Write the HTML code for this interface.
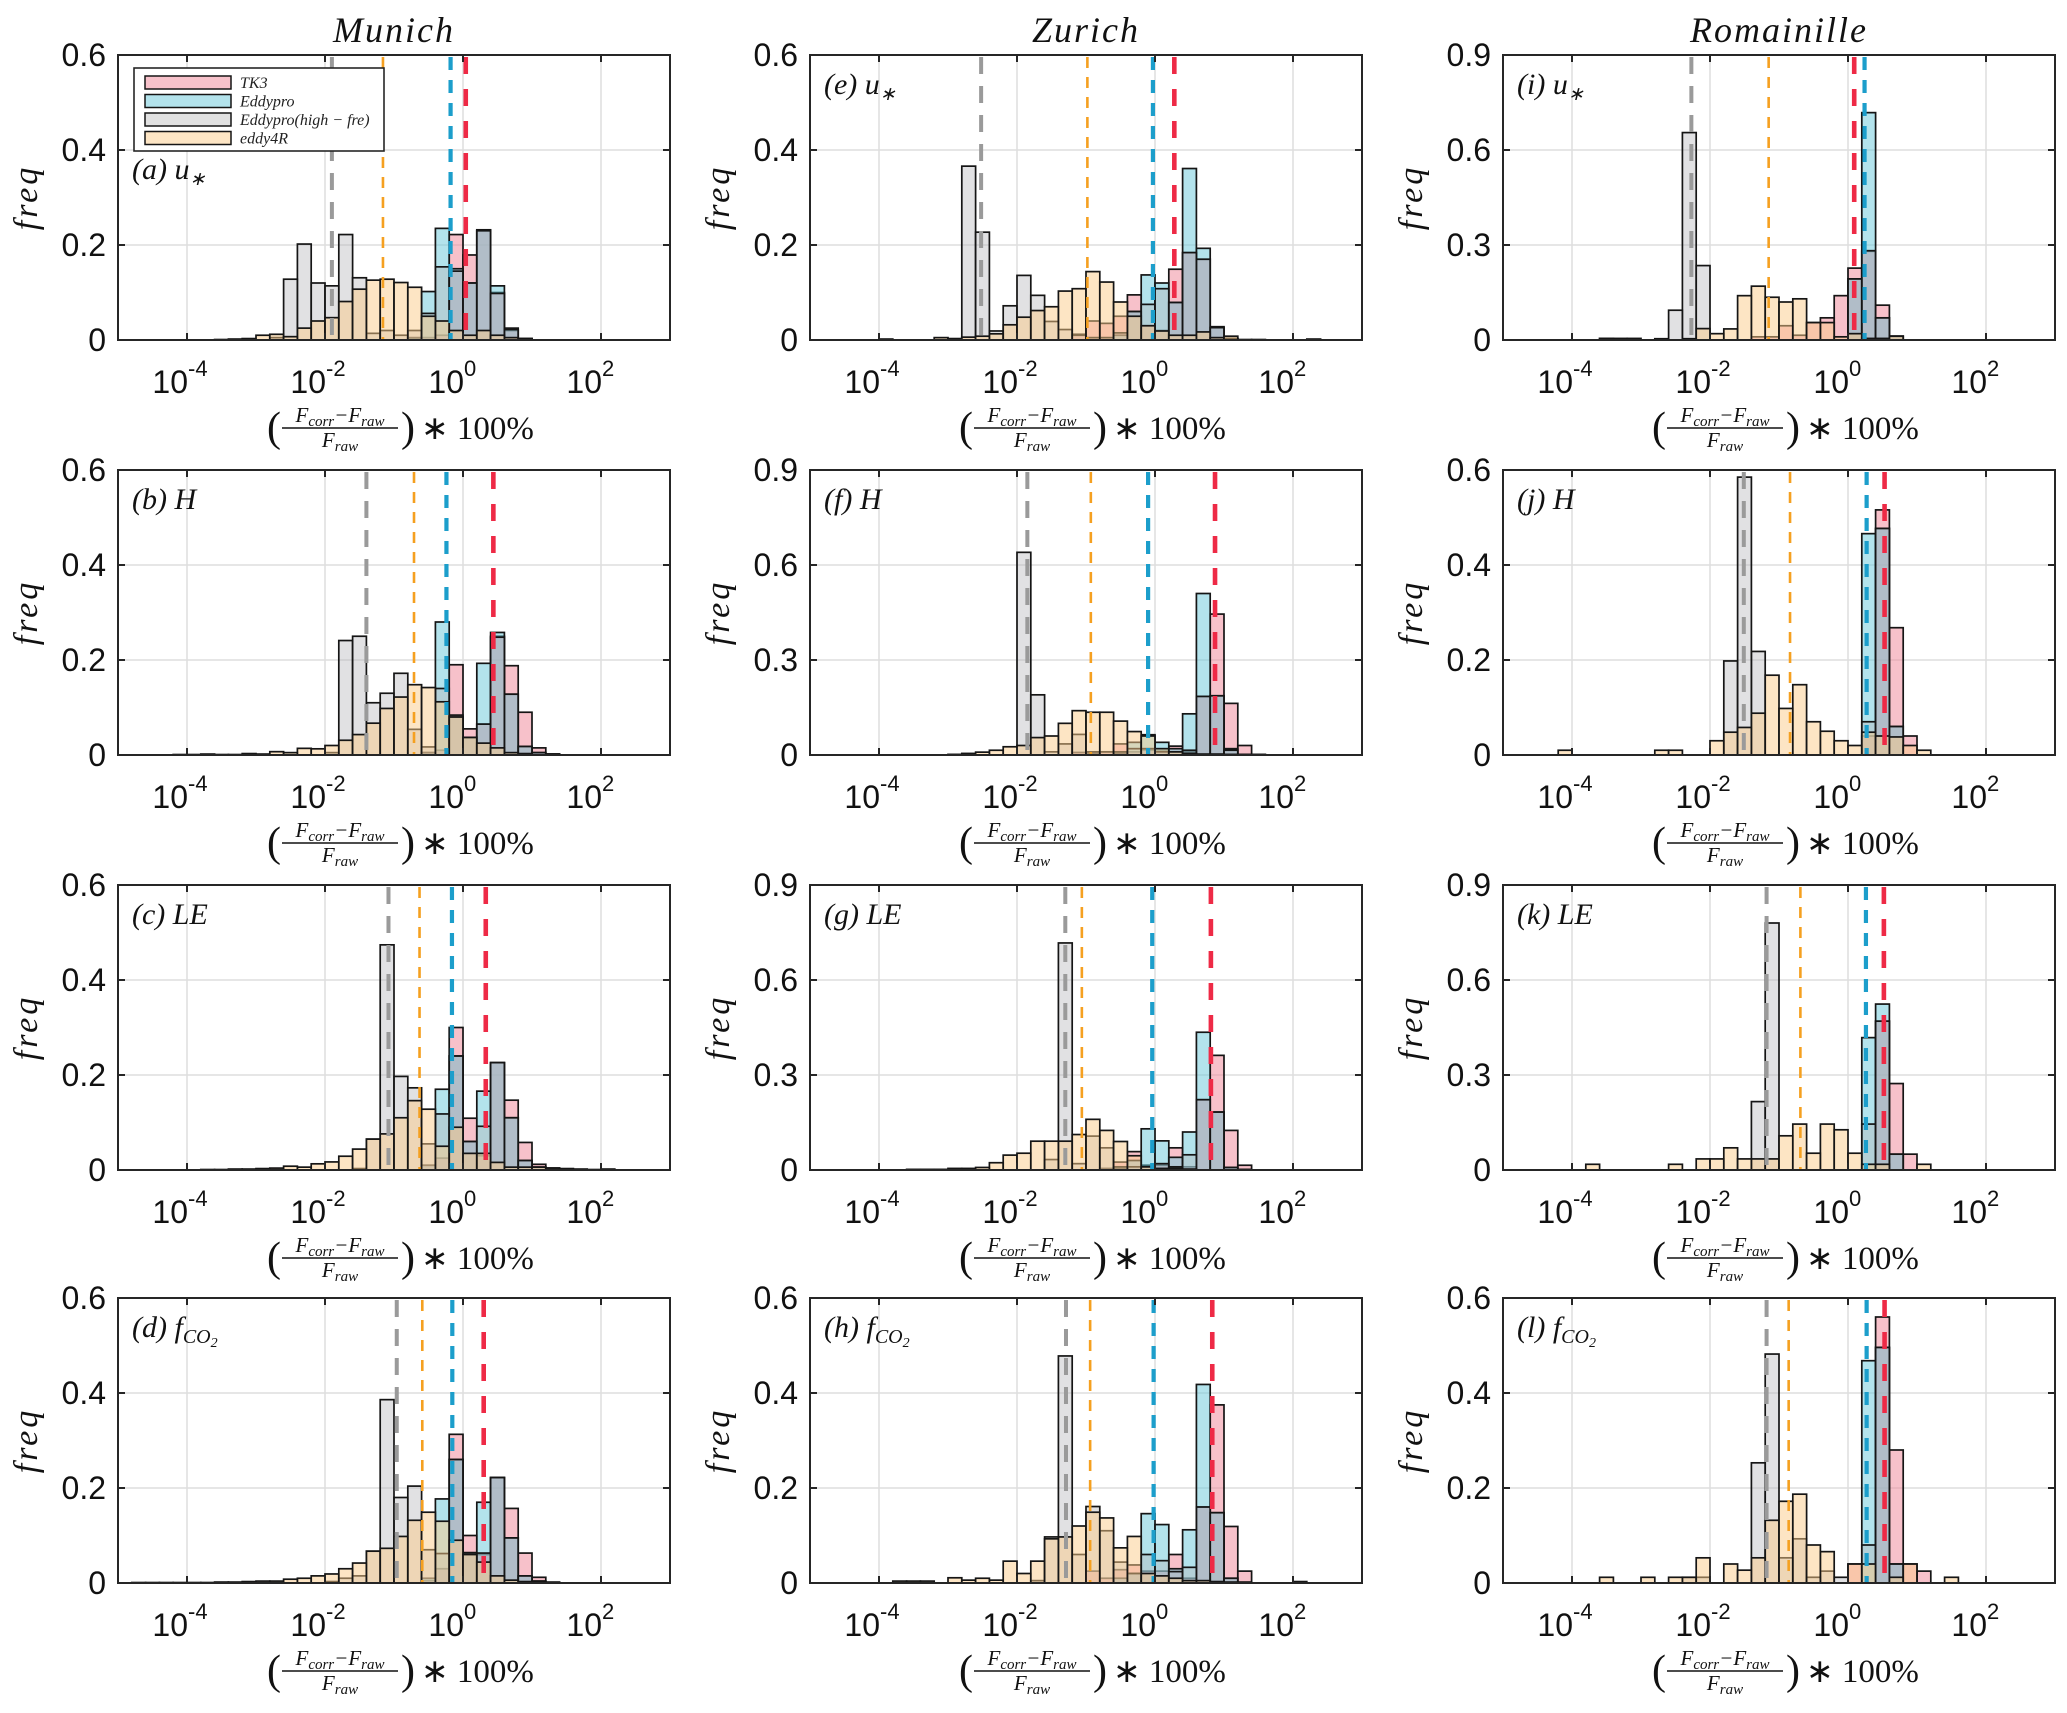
<!DOCTYPE html>
<html>
<head>
<meta charset="utf-8">
<style>
  html,body{margin:0;padding:0;background:#fff;}
  svg{display:block;}
  text{font-family:"Liberation Sans",sans-serif;}
  text.serif{font-family:"Liberation Serif",serif;font-style:italic;}
  text.serifup{font-family:"Liberation Serif",serif;font-style:normal;}
</style>
</head>
<body>
<svg id="chart" width="2067" height="1713" viewBox="0 0 2067 1713" xmlns="http://www.w3.org/2000/svg"></svg>
<script>
// ---------- data: 40 log-spaced bins, bin k covers 10^(-5+0.2k) .. 10^(-5+0.2(k+1)) ----------
const NB = 40;
function bins(start, vals){ const a = new Array(NB).fill(0); vals.forEach((v,i)=>{ a[start+i]=v; }); return a; }

const xTickExp = [-4, -2, 0, 2];
const yTicks06 = [0, 0.2, 0.4, 0.6];
const yTickLabels06 = ["0", "0.2", "0.4", "0.6"];
const yTicks09 = [0, 0.3, 0.6, 0.9];
const yTickLabels09 = ["0", "0.3", "0.6", "0.9"];
const sites = ["Munich", "Zurich", "Romainille"];
const seriesNames = ["TK3", "Eddypro", "Eddypro(high \u2212 fre)", "eddy4R"];

// (a) Munich u*
const aTk3  = bins(21,[0.003,0.005,0.01,0.222,0.179,0.23,0.1,0.02,0.003]);
const aEdd  = bins(21,[0.005,0.102,0.235,0.15,0.12,0.232,0.114,0.025,0.003]);
const aGray = bins(11,[0.005,0.128,0.202,0.12,0.114,0.222,0.131,0.014,0.02,0.01,0.02,0.056,0.154,0.145,0.12,0.23,0.098,0.022,0.003]);
const aE4r  = bins(7,[0.001,0.002,0.003,0.01,0.012,0.007,0.025,0.04,0.047,0.081,0.107,0.126,0.128,0.121,0.111,0.05,0.04,0.02,0.01,0.02,0.01,0.005,0.002]);
const aMed  = [-1.90,-1.16,-0.18,0.04];
// (b) Munich H
const bTk3  = bins(22,[0.005,0.01,0.19,0.055,0.065,0.25,0.188,0.09,0.015,0.002]);
const bEdd  = bins(22,[0.005,0.28,0.08,0.037,0.193,0.258,0.128,0.018,0.005,0.002]);
const bGray = bins(15,[0.005,0.241,0.25,0.11,0.13,0.172,0.054,0.017,0.14,0.084,0.037,0.065,0.248,0.128,0.018,0.005,0.002]);
const bE4r  = bins(4,[0.001,0.001,0.002,0.001,0.001,0.003,0.002,0.007,0.005,0.014,0.013,0.02,0.031,0.043,0.067,0.098,0.122,0.148,0.142,0.112,0.08,0.037,0.025,0.015,0.005,0.003]);
const bMed  = [-1.40,-0.71,-0.24,0.44];
// (c) Munich LE
const cTk3  = bins(22,[0.01,0.025,0.3,0.109,0.03,0.226,0.147,0.058,0.012,0.004]);
const cEdd  = bins(22,[0.01,0.17,0.24,0.06,0.166,0.226,0.11,0.02,0.006,0.003]);
const cGray = bins(17,[0.003,0.065,0.474,0.197,0.173,0.055,0.118,0.24,0.06,0.092,0.226,0.11,0.02,0.006,0.004]);
const cE4r  = bins(6,[0.001,0.001,0.002,0.002,0.003,0.004,0.008,0.006,0.013,0.017,0.029,0.044,0.065,0.076,0.11,0.146,0.128,0.05,0.09,0.035,0.035,0.016,0.006,0.006,0.006,0.004,0.003,0.002,0.001,0.002]);
const cMed  = [-1.08,-0.63,-0.16,0.33];
// (d) Munich fCO2
const dTk3  = bins(22,[0.005,0.03,0.313,0.1,0.06,0.222,0.157,0.063,0.012,0.002]);
const dEdd  = bins(22,[0.01,0.177,0.26,0.064,0.17,0.222,0.095,0.015,0.004]);
const dGray = bins(15,[0.003,0.01,0.015,0.067,0.386,0.18,0.204,0.07,0.062,0.26,0.06,0.063,0.222,0.095,0.015,0.004]);
const dE4r  = bins(1,[0.001,0.001,0.001,0.001,0.001,0.001,0.002,0.002,0.003,0.004,0.004,0.008,0.01,0.015,0.019,0.03,0.042,0.067,0.073,0.098,0.132,0.149,0.13,0.09,0.06,0.044,0.015,0.006,0.003,0.002]);
const dMed  = [-0.96,-0.59,-0.155,0.30];
// (e) Zurich u*
const eTk3  = bins(19,[0.012,0.04,0.035,0.05,0.095,0.03,0.02,0.149,0.184,0.17,0.028,0.003]);
const eEdd  = bins(22,[0.01,0.06,0.137,0.12,0.079,0.361,0.193,0.026,0.003]);
const eGray = bins(5,[0.002,0,0,0,0,0,0.366,0.227,0.019,0.072,0.136,0.094,0.039,0.022,0.01,0.005,0.005,0.015,0.06,0.075,0.108,0.079,0.184,0.17,0.026,0.003]);
const eE4r  = bins(9,[0.005,0.003,0.006,0.008,0.013,0.032,0.048,0.062,0.07,0.103,0.108,0.144,0.122,0.08,0.05,0.03,0.019,0.01,0.01,0.017,0.005,0.008,0.001,0.001,0,0,0,0.002]);
const eMed  = [-2.52,-0.98,-0.03,0.28];
// (f) Zurich H
const fTk3  = bins(19,[0.008,0.005,0.01,0.035,0.01,0.015,0.012,0.028,0.01,0.185,0.445,0.163,0.03,0.002]);
const fEdd  = bins(22,[0.005,0.04,0.064,0.04,0.02,0.13,0.51,0.187,0.02,0.002]);
const fGray = bins(15,[0.64,0.19,0.01,0.035,0.065,0.01,0.01,0.01,0.02,0.02,0.01,0.01,0.015,0.185,0.187,0.015,0.002]);
const fE4r  = bins(10,[0.002,0.005,0.009,0.015,0.026,0.03,0.055,0.06,0.1,0.14,0.135,0.135,0.107,0.074,0.06,0.02,0.01,0.005,0.003,0.003,0.002]);
const fMed  = [-1.85,-0.93,-0.10,0.87];
// (g) Zurich LE
const gTk3  = bins(21,[0.005,0.025,0.058,0.015,0.015,0.07,0.01,0.222,0.362,0.125,0.015]);
const gEdd  = bins(22,[0.005,0.03,0.13,0.092,0.04,0.12,0.435,0.183,0.008,0.002]);
const gGray = bins(17,[0.033,0.717,0.02,0.107,0.07,0.01,0.01,0.01,0.02,0.01,0.048,0.222,0.183,0.008]);
const gE4r  = bins(7,[0.002,0.002,0.002,0.005,0.005,0.008,0.023,0.047,0.053,0.091,0.091,0.091,0.112,0.16,0.125,0.09,0.045,0.01,0.005,0.005,0.003]);
const gMed  = [-1.30,-1.06,-0.04,0.81];
// (h) Zurich fCO2
const hTk3  = bins(20,[0.025,0.01,0.028,0.038,0.025,0.025,0.06,0.01,0.16,0.375,0.119,0.025]);
const hEdd  = bins(22,[0.01,0.02,0.146,0.123,0.03,0.112,0.418,0.148,0.01,0.002]);
const hGray = bins(16,[0.005,0.097,0.478,0.06,0.161,0.11,0.044,0.02,0.06,0.047,0.024,0.033,0.16,0.148,0.01]);
const hE4r  = bins(6,[0.004,0.004,0.004,0,0.011,0.006,0.01,0.006,0.046,0.02,0.046,0.093,0.097,0.12,0.149,0.137,0.074,0.098,0.02,0.015,0.01,0.005,0.005,0.003,0.002,0,0,0,0,0.003]);
const hMed  = [-1.29,-0.94,-0.02,0.83];
// (i) Romainille u*
const iTk3  = bins(7,[0.005,0.005,0,0,0,0,0,0,0,0,0,0.01,0.01,0.045,0.015,0.055,0.07,0.14,0.227,0.28,0.11,0.012]);
const iEdd  = bins(25,[0.193,0.718,0.07,0.012]);
const iGray = bins(11,[0.004,0.094,0.655,0.235,0,0,0,0,0,0,0,0,0,0,0.193,0.282,0.07,0.012]);
const iE4r  = bins(7,[0.005,0,0.005,0,0,0,0.004,0.036,0.02,0.035,0.14,0.17,0.135,0.12,0.13,0.055,0.055,0.01,0.02,0.005,0.005,0.012]);
const iMed  = [-2.27,-1.15,0.24,0.09];
// (j) Romainille H
const jTk3  = bins(26,[0.04,0.516,0.268,0.04]);
const jEdd  = bins(26,[0.466,0.477,0.06]);
const jGray = bins(16,[0.198,0.585,0.218,0,0,0,0,0,0,0,0.07,0.477,0.06]);
const jE4r  = bins(4,[0.01,0,0,0,0,0,0,0.01,0.01,0,0,0.03,0.048,0.058,0.088,0.168,0.098,0.148,0.07,0.05,0.03,0.02,0.048,0.04,0.038,0.02,0.01]);
const jMed  = [-1.51,-0.84,0.27,0.53];
// (k) Romainille LE
const kTk3  = bins(27,[0.47,0.273,0.05]);
const kEdd  = bins(26,[0.418,0.524,0.05]);
const kGray = bins(18,[0.216,0.78,0,0,0,0,0,0,0.145,0.47,0.05]);
const kE4r  = bins(6,[0.018,0,0,0,0,0,0.018,0,0.035,0.035,0.07,0.035,0.035,0.035,0.108,0.145,0.053,0.145,0.127,0.053,0.018,0.018,0,0,0.018]);
const kMed  = [-1.18,-0.69,0.26,0.52];
// (l) Romainille fCO2
const lTk3  = bins(25,[0.04,0,0.56,0.28,0.04,0.025]);
const lEdd  = bins(26,[0.468,0.496,0.04]);
const lGray = bins(13,[0.012,0.012,0,0,0,0.253,0.482,0.053,0.093,0.012,0.025,0.012,0,0.08,0.496,0.04]);
const lE4r  = bins(7,[0.012,0,0,0.012,0,0.012,0.012,0.053,0,0.04,0.027,0.053,0.132,0.172,0.187,0.08,0.066,0,0.04,0.04,0,0.012,0.04,0,0,0.012]);
const lMed  = [-1.18,-0.86,0.27,0.53];

// ---------- layout ----------
const svg = document.getElementById('chart');
const NS = 'http://www.w3.org/2000/svg';
const colLeft = [118, 810, 1503];
const rowTop = [55, 470, 885, 1298];
const W = 552, H = 285;
const XMIN = -5, XMAX = 3, BW = 0.2;

function mk(tag, attrs, parent){
  const e = document.createElementNS(NS, tag);
  for (const k in attrs) e.setAttribute(k, attrs[k]);
  (parent || svg).appendChild(e);
  return e;
}

const seriesStyle = [
  {fill:'#ef8395', op:0.5, name:'tk3'},
  {fill:'#67c7d9', op:0.5, name:'eddypro'},
  {fill:'#b4b4b8', op:0.4, name:'eddypro-high-fre'},
  {fill:'#fbcb89', op:0.5, name:'eddy4r'}
];
const medStyle = [
  {c:'#9a9a9a', w:4, d:'17 12', name:'gray'},
  {c:'#f5a020', w:2.6, d:'11 9', name:'orange'},
  {c:'#1c9ecb', w:4.2, d:'13 10', name:'cyan'},
  {c:'#ee2a46', w:4.6, d:'17 15', name:'red'}
];

const panels = [
  {id:'a', col:0, row:0, ymax:0.6, s:[aTk3,aEdd,aGray,aE4r], med:aMed, v:'u'},
  {id:'b', col:0, row:1, ymax:0.6, s:[bTk3,bEdd,bGray,bE4r], med:bMed, v:'H'},
  {id:'c', col:0, row:2, ymax:0.6, s:[cTk3,cEdd,cGray,cE4r], med:cMed, v:'LE'},
  {id:'d', col:0, row:3, ymax:0.6, s:[dTk3,dEdd,dGray,dE4r], med:dMed, v:'f'},
  {id:'e', col:1, row:0, ymax:0.6, s:[eTk3,eEdd,eGray,eE4r], med:eMed, v:'u'},
  {id:'f', col:1, row:1, ymax:0.9, s:[fTk3,fEdd,fGray,fE4r], med:fMed, v:'H'},
  {id:'g', col:1, row:2, ymax:0.9, s:[gTk3,gEdd,gGray,gE4r], med:gMed, v:'LE'},
  {id:'h', col:1, row:3, ymax:0.6, s:[hTk3,hEdd,hGray,hE4r], med:hMed, v:'f'},
  {id:'i', col:2, row:0, ymax:0.9, s:[iTk3,iEdd,iGray,iE4r], med:iMed, v:'u'},
  {id:'j', col:2, row:1, ymax:0.6, s:[jTk3,jEdd,jGray,jE4r], med:jMed, v:'H'},
  {id:'k', col:2, row:2, ymax:0.9, s:[kTk3,kEdd,kGray,kE4r], med:kMed, v:'LE'},
  {id:'l', col:2, row:3, ymax:0.6, s:[lTk3,lEdd,lGray,lE4r], med:lMed, v:'f'}
];

// column titles
sites.forEach((name, c) => {
  const t = mk('text', {x: colLeft[c] + W/2, y: 42, 'text-anchor':'middle', 'font-size':36, 'letter-spacing':'2', class:'serif', fill:'#111'});
  
  
  t.textContent = name;
});

function drawPanel(p){
  const L = colLeft[p.col], T = rowTop[p.row], B = T + H, R = L + W;
  const xs = d => L + (d - XMIN) / (XMAX - XMIN) * W;
  const ys = v => B - v / p.ymax * H;
  const g = mk('g', {});
  
  

  const ticks = p.ymax === 0.9 ? yTicks09 : yTicks06;
  const tickLabels = p.ymax === 0.9 ? yTickLabels09 : yTickLabels06;

  xTickExp.forEach(e => {
    const ln = mk('line', {x1:xs(e), x2:xs(e), y1:T, y2:B, stroke:'#dedede', 'stroke-width':1.5}, g);
    
    
  });
  ticks.forEach(v => {
    const ln = mk('line', {x1:L, x2:R, y1:ys(v), y2:ys(v), stroke:'#dedede', 'stroke-width':1.5}, g);
    
    
  });

  p.s.forEach((arr, si) => {
    const st = seriesStyle[si];
    arr.forEach((v, k) => {
      if (v <= 0) return;
      const x0 = xs(XMIN + k * BW), x1 = xs(XMIN + (k + 1) * BW);
      const r = mk('rect', {x:x0, y:ys(v), width:x1 - x0, height:B - ys(v), fill:st.fill, 'fill-opacity':st.op, stroke:'#151515', 'stroke-width':1.7}, g);
      
      
    });
  });

  p.med.forEach((m, mi) => {
    const ms = medStyle[mi];
    const ln = mk('line', {x1:xs(m), x2:xs(m), y1:T + 2, y2:B, stroke:ms.c, 'stroke-width':ms.w, 'stroke-dasharray':ms.d}, g);
    
    
  });

  const box = mk('rect', {x:L, y:T, width:W, height:H, fill:'none', stroke:'#262626', 'stroke-width':2}, g);
  
  

  ticks.forEach((v, i) => {
    const t1 = mk('line', {x1:L, x2:L + 7, y1:ys(v), y2:ys(v), stroke:'#262626', 'stroke-width':2}, g);
    
    
    const t2 = mk('line', {x1:R - 7, x2:R, y1:ys(v), y2:ys(v), stroke:'#262626', 'stroke-width':2}, g);
    
    
    const lb = mk('text', {x:L - 12, y:ys(v) + 11, 'text-anchor':'end', 'font-size':32, fill:'#111'}, g);
    
    
    lb.textContent = tickLabels[i];
  });
  xTickExp.forEach(e => {
    const t1 = mk('line', {x1:xs(e), x2:xs(e), y1:B, y2:B - 7, stroke:'#262626', 'stroke-width':2}, g);
    
    
    const t2 = mk('line', {x1:xs(e), x2:xs(e), y1:T, y2:T + 7, stroke:'#262626', 'stroke-width':2}, g);
    
    
    const base = mk('text', {x:xs(e) + 1, y:B + 53, 'text-anchor':'end', 'font-size':32, fill:'#111'}, g);
    
    
    base.textContent = '10';
    const ex = mk('text', {x:xs(e) + 1, y:B + 36, 'text-anchor':'start', 'font-size':22, fill:'#111'}, g);
    
    
    ex.textContent = e < 0 ? '-' + Math.abs(e) : String(e);
  });

  const yl = mk('text', {transform:'translate(' + (L - 81) + ',' + (T + H/2) + ') rotate(-90)', 'text-anchor':'middle', 'font-size':34, class:'serif', fill:'#111', 'letter-spacing':'3'}, g);
  
  
  yl.textContent = 'freq';

  const cx = L + W/2;
  const xl = mk('g', {}, g);
  
  
  const lp = mk('text', {x:cx - 127, y:B + 101, 'font-size':42, class:'serifup', fill:'#111'}, xl);
  
  
  lp.textContent = '(';
  const num = mk('text', {x:cx - 54, y:B + 82, 'text-anchor':'middle', 'font-size':21, class:'serif', fill:'#111'}, xl);
  
  
  num.innerHTML = 'F<tspan font-size="15" dy="4">corr</tspan><tspan dy="-4">\u2212F</tspan><tspan font-size="15" dy="4">raw</tspan>';
  const bar = mk('line', {x1:cx - 112, x2:cx + 4, y1:B + 88, y2:B + 88, stroke:'#111', 'stroke-width':1.6}, xl);
  
  
  const den = mk('text', {x:cx - 54, y:B + 107, 'text-anchor':'middle', 'font-size':21, class:'serif', fill:'#111'}, xl);
  
  
  den.innerHTML = 'F<tspan font-size="15" dy="4">raw</tspan>';
  const rp = mk('text', {x:cx + 7, y:B + 101, 'font-size':42, class:'serifup', fill:'#111'}, xl);
  
  
  rp.textContent = ')';
  const pct = mk('text', {x:cx + 27, y:B + 99, 'font-size':33, class:'serifup', fill:'#111'}, xl);
  
  
  pct.textContent = '\u2217 100%';

  const ly = p.id === 'a' ? T + 124 : T + 39;
  const pl = mk('text', {x:L + 14, y:ly, 'font-size':30, class:'serif', fill:'#111'}, g);
  
  
  let inner = '(' + p.id + ') ';
  if (p.v === 'u') inner += 'u<tspan font-size="19" dy="6">\u2217</tspan>';
  else if (p.v === 'f') inner += 'f<tspan font-size="20" dy="6">CO</tspan><tspan font-size="14" dy="4">2</tspan>';
  else inner += p.v;
  pl.innerHTML = inner;
}

panels.forEach(drawPanel);

const legend = mk('g', {});


const lbox = mk('rect', {x:134, y:68, width:250, height:83, fill:'#fff', stroke:'#262626', 'stroke-width':1.6}, legend);


const swFill = ['#f7c1ca', '#b3e3ec', '#e1e1e1', '#fde5c4'];
seriesNames.forEach((n, i) => {
  const y = 76 + i * 18.5;
  const sw = mk('rect', {x:145, y:y, width:86, height:13, fill:swFill[i], stroke:'#151515', 'stroke-width':1.5}, legend);
  
  
  const tx = mk('text', {x:240, y:y + 12, 'font-size':16, class:'serif', fill:'#222'}, legend);
  
  
  tx.textContent = n;
});
</script>
</body>
</html>
